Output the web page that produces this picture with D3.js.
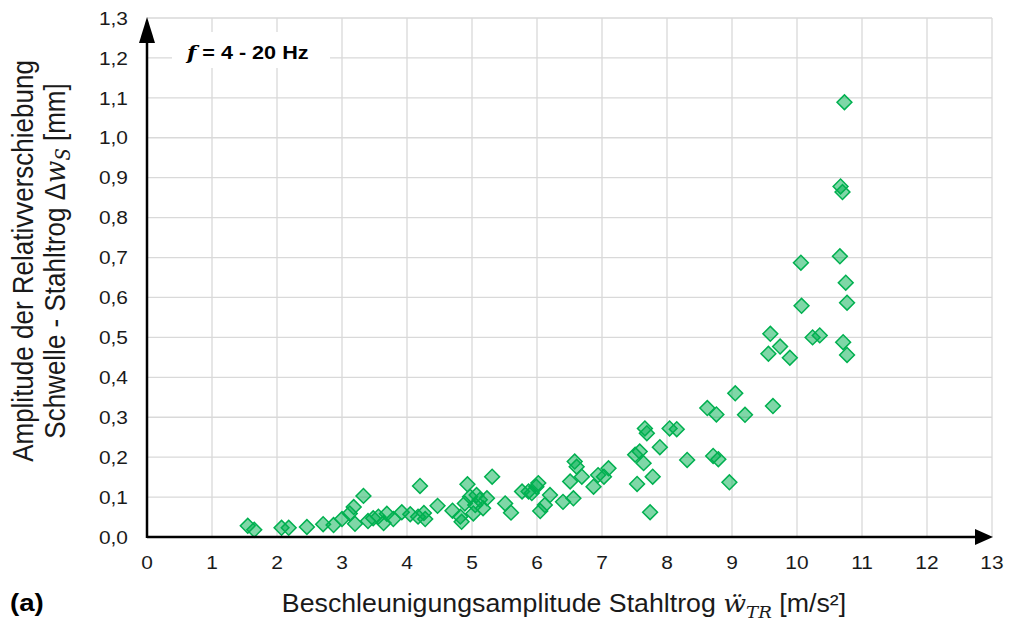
<!DOCTYPE html>
<html>
<head>
<meta charset="utf-8">
<script src="https://cdn.jsdelivr.net/npm/d3@7"></script>
<style>
  body { margin: 0; background: #fff; }
  svg { font-family: Arial, "Liberation Sans", sans-serif; }
</style>
</head>
<body>
<svg id="chart" width="1009" height="621"></svg>
<script>
// acceleration amplitude steel trough [m/s²]
var accel = [1.55, 1.65, 2.07, 2.18, 2.46, 2.71, 2.87, 3.00, 3.12, 3.18, 3.33, 3.20, 3.40, 3.48,
  3.56, 3.64, 3.69, 3.79, 3.92, 4.05, 4.20, 4.17, 4.26, 4.28, 4.47, 4.70, 4.82, 4.84, 4.89,
  4.93, 4.97, 5.02, 5.05, 5.07, 5.12, 5.17, 5.23, 5.31, 5.51, 5.60, 5.77, 5.87, 5.92, 5.99,
  6.02, 6.05, 6.12, 6.20, 6.40, 6.51, 6.56, 6.58, 6.61, 6.69, 6.87, 6.94, 7.03, 7.10, 7.51,
  7.58, 7.64, 7.54, 7.78, 7.74, 7.66, 7.69, 7.89, 8.04, 8.15, 8.31, 8.62, 8.76, 8.71, 8.79,
  8.96, 9.05, 9.20, 9.63, 9.56, 9.59, 9.74, 9.89, 10.06, 10.07, 10.24, 10.35, 10.66, 10.67,
  10.70, 10.73, 10.75, 10.77, 10.71, 10.77];
// relative displacement amplitude sleeper - trough [mm]
var disp = [0.028, 0.018, 0.023, 0.023, 0.025, 0.032, 0.030, 0.045, 0.059, 0.075, 0.103, 0.033,
  0.040, 0.047, 0.051, 0.035, 0.058, 0.045, 0.062, 0.057, 0.128, 0.051, 0.060, 0.045, 0.078,
  0.066, 0.051, 0.038, 0.084, 0.132, 0.101, 0.059, 0.080, 0.105, 0.093, 0.072, 0.097, 0.151,
  0.084, 0.061, 0.114, 0.114, 0.110, 0.126, 0.135, 0.065, 0.080, 0.105, 0.088, 0.139, 0.097,
  0.189, 0.176, 0.151, 0.126, 0.155, 0.151, 0.172, 0.206, 0.214, 0.185, 0.133, 0.151, 0.062,
  0.272, 0.260, 0.225, 0.272, 0.270, 0.193, 0.323, 0.307, 0.203, 0.195, 0.137, 0.360, 0.306,
  0.328, 0.459, 0.509, 0.477, 0.449, 0.687, 0.579, 0.500, 0.505, 0.703, 0.878, 0.864, 1.089,
  0.637, 0.587, 0.488, 0.456];

var xTicks = d3.range(0, 14, 1);
var yTicks = d3.range(0, 14, 1).map(d => d / 10);

var svg = d3.select('#chart');

var x = d3.scaleLinear().domain([0, 13]).range([147, 992]);
var y = d3.scaleLinear().domain([0, 1.3]).range([537, 18]);

// text in the reference is a little stretched sideways
var sx = 1.1;
var serif = '"DejaVu Serif", "Liberation Serif", serif';

var fmtY = d => d3.format('.1f')(d).replace('.', ',');

// grid
svg.append('g')
  .selectAll('line')
  .data(xTicks.slice(1))
  .join('line')
  .attr('x1', d => x(d)).attr('x2', d => x(d))
  .attr('y1', y(0)).attr('y2', y(1.3))
  .attr('stroke', '#d9d9d9').attr('stroke-width', 1.3);

svg.append('g')
  .selectAll('line')
  .data(yTicks.slice(1))
  .join('line')
  .attr('x1', x(0)).attr('x2', x(13))
  .attr('y1', d => y(d)).attr('y2', d => y(d))
  .attr('stroke', '#d9d9d9').attr('stroke-width', 1.3);

// tick labels
svg.append('g')
  .selectAll('text')
  .data(yTicks)
  .join('text')
  .attr('transform', d => 'translate(128,' + y(d) + ') scale(' + sx + ',1)')
  .attr('dy', '0.35em')
  .attr('text-anchor', 'end')
  .attr('font-size', 19)
  .attr('fill', '#1a1a1a')
  .text(fmtY);

svg.append('g')
  .selectAll('text')
  .data(xTicks)
  .join('text')
  .attr('transform', d => 'translate(' + x(d) + ',569) scale(' + sx + ',1)')
  .attr('text-anchor', 'middle')
  .attr('font-size', 19)
  .attr('fill', '#1a1a1a')
  .text(d => d);

// points
var pts = accel.map((a, i) => ({ a: a, d: disp[i] }));
var diamond = d3.symbol().type(d3.symbolSquare).size(110);

svg.append('g')
  .selectAll('path')
  .data(pts)
  .join('path')
  .attr('d', diamond)
  .attr('transform', d => 'translate(' + x(d.a) + ',' + y(d.d) + ') rotate(45)')
  .attr('fill', 'rgba(0,176,80,0.5)')
  .attr('stroke', '#00b050')
  .attr('stroke-width', 1.5);

// axes with arrows
svg.append('line')
  .attr('x1', x(0)).attr('x2', 978)
  .attr('y1', y(0)).attr('y2', y(0))
  .attr('stroke', '#000').attr('stroke-width', 2.5);
svg.append('path')
  .attr('d', 'M975,529 L993,537 L975,545 Z')
  .attr('fill', '#000');

svg.append('line')
  .attr('x1', x(0)).attr('x2', x(0))
  .attr('y1', y(0) + 1).attr('y2', 36)
  .attr('stroke', '#000').attr('stroke-width', 2.5);
svg.append('path')
  .attr('d', 'M139,43 L147,17 L155,43 Z')
  .attr('fill', '#000');

// frequency label
svg.append('rect')
  .attr('x', 172).attr('y', 32).attr('width', 158).attr('height', 36)
  .attr('fill', '#fff');
var lab = svg.append('text')
  .attr('transform', 'translate(187,59) scale(1.2,1)')
  .attr('font-size', 18).attr('font-weight', 'bold');
lab.append('tspan').attr('font-family', serif)
  .attr('font-style', 'italic').text('f');
lab.append('tspan').text(' = 4 - 20 Hz');

// y title
var yt = svg.append('g').attr('transform', 'translate(0,261) scale(' + sx + ',1) rotate(-90)');
yt.append('text')
  .attr('x', 0).attr('y', 30)
  .attr('text-anchor', 'middle').attr('font-size', 26).attr('fill', '#1a1a1a')
  .text('Amplitude der Relativverschiebung');
var yt2 = yt.append('text')
  .attr('x', 0).attr('y', 59)
  .attr('text-anchor', 'middle').attr('font-size', 26).attr('fill', '#1a1a1a');
yt2.append('tspan').text('Schwelle - Stahltrog Δ');
yt2.append('tspan').attr('font-family', serif)
  .attr('font-style', 'italic').text('w');
yt2.append('tspan').attr('font-family', serif)
  .attr('font-style', 'italic').attr('font-size', 18).attr('dy', 5).text('S');
yt2.append('tspan').attr('dy', -5).text(' [mm]');

// x title
var xt = svg.append('text')
  .attr('transform', 'translate(564,612) scale(1.07,1)')
  .attr('text-anchor', 'middle').attr('font-size', 25).attr('fill', '#1a1a1a');
xt.append('tspan').text('Beschleunigungsamplitude Stahltrog ');
xt.append('tspan').attr('font-family', serif)
  .attr('font-style', 'italic').text('ẅ');
xt.append('tspan').attr('font-family', serif)
  .attr('font-style', 'italic').attr('font-size', 17).attr('dy', 6).text('TR');
xt.append('tspan').attr('dy', -6).text(' [m/s²]');

svg.append('text')
  .attr('transform', 'translate(10,611) scale(1.15,1)')
  .attr('font-size', 24).attr('font-weight', 'bold')
  .text('(a)');
</script>
</body>
</html>
